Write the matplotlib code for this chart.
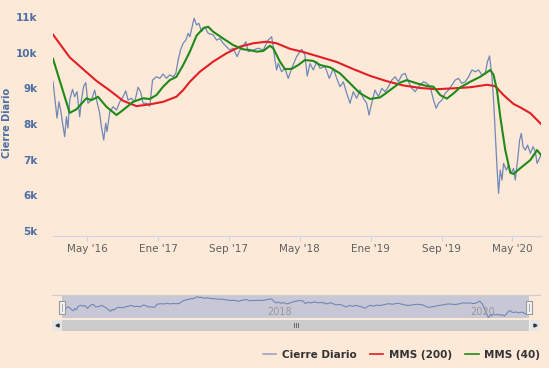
import numpy as np
import matplotlib.pyplot as plt
from matplotlib.patches import Rectangle
from matplotlib.lines import Line2D

# fechas en años decimales
close_t = [2016.013, 2016.029, 2016.051, 2016.069, 2016.085, 2016.101, 2016.123, 2016.139,
           2016.154, 2016.170, 2016.196, 2016.217, 2016.239, 2016.264, 2016.280, 2016.302,
           2016.321, 2016.342, 2016.374, 2016.405, 2016.427, 2016.452, 2016.468, 2016.490,
           2016.509, 2016.521, 2016.547, 2016.578, 2016.610, 2016.641, 2016.672, 2016.697,
           2016.719, 2016.751, 2016.782, 2016.813, 2016.836, 2016.860, 2016.892, 2016.923,
           2016.949, 2016.986, 2017.017, 2017.048, 2017.080, 2017.111, 2017.143, 2017.168,
           2017.190, 2017.212, 2017.237, 2017.262, 2017.284, 2017.300, 2017.325, 2017.340,
           2017.363, 2017.385, 2017.410, 2017.441, 2017.472, 2017.519, 2017.551, 2017.582,
           2017.613, 2017.645, 2017.676, 2017.707, 2017.745, 2017.771, 2017.827, 2017.849,
           2017.896, 2017.943, 2017.990, 2018.037, 2018.069, 2018.084, 2018.100, 2018.116,
           2018.131, 2018.163, 2018.194, 2018.225, 2018.257, 2018.304, 2018.351, 2018.382,
           2018.404, 2018.430, 2018.461, 2018.493, 2018.524, 2018.571, 2018.611, 2018.649,
           2018.681, 2018.712, 2018.743, 2018.775, 2018.806, 2018.837, 2018.869, 2018.900,
           2018.931, 2018.963, 2018.985, 2019.010, 2019.041, 2019.073, 2019.105, 2019.136,
           2019.167, 2019.199, 2019.230, 2019.261, 2019.293, 2019.324, 2019.355, 2019.387,
           2019.418, 2019.450, 2019.497, 2019.529, 2019.560, 2019.591, 2019.616, 2019.638,
           2019.670, 2019.701, 2019.732, 2019.764, 2019.795, 2019.826, 2019.858, 2019.890,
           2019.921, 2019.953, 2019.984, 2020.015, 2020.047, 2020.078, 2020.099, 2020.118,
           2020.141, 2020.156, 2020.172, 2020.188, 2020.203, 2020.219, 2020.235, 2020.250,
           2020.276, 2020.297, 2020.320, 2020.344, 2020.360, 2020.382, 2020.401, 2020.417,
           2020.433, 2020.455, 2020.476, 2020.502, 2020.527, 2020.549, 2020.565, 2020.580,
           2020.602]
close_v = [9190, 8765, 8165, 8620, 8390, 8060, 7640, 8200,
           7885, 8670, 8970, 8765, 8905, 8200, 8670, 9065,
           9160, 8580, 8670, 8950, 8620, 8300, 7920, 7550,
           8020, 7780, 8340, 8480, 8390, 8620, 8765, 8930,
           8670, 8720, 8620, 9030, 8905, 8580, 8580, 8500,
           9230, 9325, 9280, 9400, 9280, 9375, 9325, 9420,
           9795, 10075, 10265, 10355, 10545, 10450, 10780, 10970,
           10780, 10825, 10590, 10730, 10545, 10500, 10355, 10400,
           10265, 10170, 10075, 10125, 9890, 10075, 10310, 10030,
           10075, 10125, 10075, 10355, 10450, 10170, 9795, 9515,
           9700, 9465, 9560, 9280, 9560, 9890, 10095, 9935,
           9345, 9700, 9515, 9750, 9560, 9610, 9280, 9560,
           9280, 9045, 9185, 8860, 8580, 8905, 8720, 8950,
           8720, 8580, 8250, 8580, 8950, 8765, 9000, 8905,
           9045, 9230, 9325, 9185, 9375, 9420, 9185, 9000,
           8905, 9045, 9185, 9140, 9045, 8670, 8440, 8580,
           8670, 8860, 8950, 9090, 9230, 9280, 9140, 9185,
           9325, 9515, 9465, 9515, 9375, 9420, 9750, 9910,
           9325, 8670, 7735, 6800, 6050, 6705, 6425, 6890,
           6705, 6845, 6610, 6750, 6425, 6985, 7545, 7735,
           7360, 7265, 7405, 7175, 7360, 7220, 6890, 6985,
           7125]

mms200_t = [2016.013, 2016.170, 2016.295, 2016.421, 2016.547, 2016.672, 2016.798, 2016.923,
            2017.048, 2017.174, 2017.237, 2017.300, 2017.394, 2017.519, 2017.645, 2017.771,
            2017.896, 2018.022, 2018.116, 2018.241, 2018.367, 2018.524, 2018.681, 2018.837,
            2018.995, 2019.152, 2019.309, 2019.466, 2019.623, 2019.780, 2019.937, 2020.094,
            2020.172, 2020.250, 2020.344, 2020.407, 2020.502, 2020.602]
mms200_v = [10510, 9870, 9540, 9210, 8940, 8650, 8500, 8550,
            8620, 8765, 8950, 9185, 9465, 9750, 9985, 10170,
            10265, 10310, 10265, 10110, 10020, 9880, 9740, 9540,
            9350, 9200, 9080, 9010, 8975, 9000, 9030, 9100,
            9060, 8810, 8560, 8465, 8300, 8000]

mms40_t = [2016.013, 2016.170, 2016.233, 2016.327, 2016.374, 2016.437, 2016.516, 2016.610,
           2016.672, 2016.766, 2016.860, 2016.923, 2016.986, 2017.048, 2017.111, 2017.174,
           2017.237, 2017.300, 2017.363, 2017.425, 2017.472, 2017.519, 2017.613, 2017.707,
           2017.802, 2017.865, 2017.928, 2017.990, 2018.053, 2018.084, 2018.147, 2018.194,
           2018.257, 2018.320, 2018.382, 2018.461, 2018.524, 2018.618, 2018.712, 2018.806,
           2018.900, 2018.995, 2019.089, 2019.183, 2019.277, 2019.340, 2019.434, 2019.529,
           2019.591, 2019.654, 2019.717, 2019.780, 2019.842, 2019.937, 2020.031, 2020.125,
           2020.156, 2020.188, 2020.219, 2020.266, 2020.313, 2020.344, 2020.407, 2020.502,
           2020.565, 2020.602]
mms40_v = [9830, 8310, 8410, 8720, 8670, 8760, 8480, 8250,
           8390, 8620, 8720, 8700, 8810, 9045, 9230, 9325,
           9655, 10030, 10480, 10685, 10730, 10590, 10400, 10215,
           10095, 10075, 10030, 10050, 10195, 10125, 9750, 9540,
           9545, 9655, 9795, 9770, 9655, 9590, 9420, 9140,
           8860, 8700, 8745, 8950, 9160, 9230, 9140, 9065,
           9045, 8810, 8710, 8860, 9025, 9185, 9325, 9515,
           9375, 8950, 8200, 7265, 6630, 6595, 6755, 6985,
           7265, 7125]

tick_years = [2016, 2017, 2017, 2018, 2019, 2019, 2020]
tick_months = [5, 1, 9, 5, 1, 9, 5]
tick_labels = ["May '16", "Ene '17", "Sep '17", "May '18", "Ene '19", "Sep '19", "May '20"]
y_ticks = [5000, 6000, 7000, 8000, 9000, 10000, 11000]
nav_years = [2018, 2020]

bg = '#fce9d7'
c_close = '#7088b8'
c_200 = '#e31e24'
c_40 = '#1f8a1a'
W, H = 549, 368

fig = plt.figure(figsize=(W / 100, H / 100), dpi=100, facecolor=bg)

# grafico principal
ax = fig.add_axes([53 / W, 1 - 235.7 / H, 488 / W, 225.7 / H], facecolor=bg)
ax.plot(close_t, close_v, color=c_close, lw=0.9, label='Cierre Diario')
ax.plot(mms200_t, mms200_v, color=c_200, lw=1.5, label='MMS (200)')
ax.plot(mms40_t, mms40_v, color=c_40, lw=1.5, label='MMS (40)')
ax.set_xlim(close_t[0], close_t[-1])
ax.set_ylim(4860, 11200)
for s in ['top', 'right', 'left']:
    ax.spines[s].set_visible(False)
ax.spines['bottom'].set_color('#ccd6eb')
ax.set_yticks(y_ticks)
ax.set_yticklabels(['{}k'.format(v // 1000) for v in y_ticks],
                   fontweight='bold', color='#4d6fa3', fontsize=7.5)
ax.tick_params(axis='y', length=0, pad=11)
ax.set_xticks([y + (m - 1) / 12 for y, m in zip(tick_years, tick_months)])
ax.set_xticklabels(tick_labels, color='#606060', fontsize=7.5)
ax.tick_params(axis='x', length=3.6, color='#ccd6eb', pad=2.5)
fig.text(7 / W, 1 - 123 / H, 'Cierre Diario', rotation=90, ha='center', va='center',
         fontsize=7, fontweight='bold', color='#4d6fa3')

# navegador
nav = fig.add_axes([52 / W, 1 - 318.3 / H, 488 / W, 23.3 / H], facecolor=bg)
pxy = (529 - 62) / (close_t[-1] - close_t[0])
nav.set_xlim(close_t[0] - 10 / pxy, close_t[-1] + 11 / pxy)
nav.set_ylim(5910, 11370)
nav.axvspan(close_t[0], close_t[-1], color='#c8c7d5', lw=0, zorder=0)
nav.plot(close_t, close_v, color=c_close, lw=0.8, zorder=2)
for s in ['right', 'left', 'bottom']:
    nav.spines[s].set_visible(False)
nav.spines['top'].set_color('#cccccc')
nav.spines['top'].set_linewidth(0.8)
nav.set_xticks([])
nav.set_yticks([])
for yr in nav_years:
    nav.text(yr + 3 / pxy, 0.25, str(yr), color='#999999', fontsize=7,
             transform=nav.get_xaxis_transform(), va='center', ha='left')
for t in [close_t[0], close_t[-1]]:
    nav.add_patch(Rectangle((t - 3 / pxy, 0.17), 6 / pxy, 0.57, transform=nav.get_xaxis_transform(),
                            facecolor='#f2f2f2', edgecolor='#999999', lw=0.8, clip_on=False, zorder=5))
    nav.plot([t, t], [0.3, 0.6], color='#999999', lw=0.6, transform=nav.get_xaxis_transform(),
             clip_on=False, zorder=6)

# barra de desplazamiento
sb = fig.add_axes([52 / W, 1 - 330.5 / H, 488 / W, 11 / H], facecolor='#f2f2f2')
sb.set_xlim(0, 1)
sb.set_ylim(0, 1)
sb.axis('off')
sb.add_patch(Rectangle((0, 0), 1, 1, facecolor='#f2f2f2', lw=0))
sb.add_patch(Rectangle((0.0205, 0), 0.957, 1, facecolor='#cccccc', lw=0))
sb.add_patch(Rectangle((0, 0), 0.0205, 1, facecolor='#e6e6e6', lw=0))
sb.add_patch(Rectangle((0.9795, 0), 0.0205, 1, facecolor='#e6e6e6', lw=0))
sb.plot([0.0103], [0.5], marker='<', ms=2.2, color='#333333')
sb.plot([0.9897], [0.5], marker='>', ms=2.2, color='#333333')
for dx in [-0.005, 0, 0.005]:
    sb.plot([0.5 + dx, 0.5 + dx], [0.3, 0.7], color='#555555', lw=0.6)

# leyenda
handles = [Line2D([], [], color='#9aa6c4', lw=1.2),
           Line2D([], [], color=c_200, lw=1.2),
           Line2D([], [], color=c_40, lw=1.2)]
fig.legend(handles, ['Cierre Diario', 'MMS (200)', 'MMS (40)'], loc='center right',
           bbox_to_anchor=(540 / W, 1 - 355 / H), ncol=3, frameon=False,
           prop={'weight': 'bold', 'size': 7.5}, labelcolor='#333333',
           handlelength=1.3, handletextpad=0.5, columnspacing=1.3,
           borderaxespad=0, borderpad=0)

fig.savefig('out.png', dpi=100, facecolor=bg)
